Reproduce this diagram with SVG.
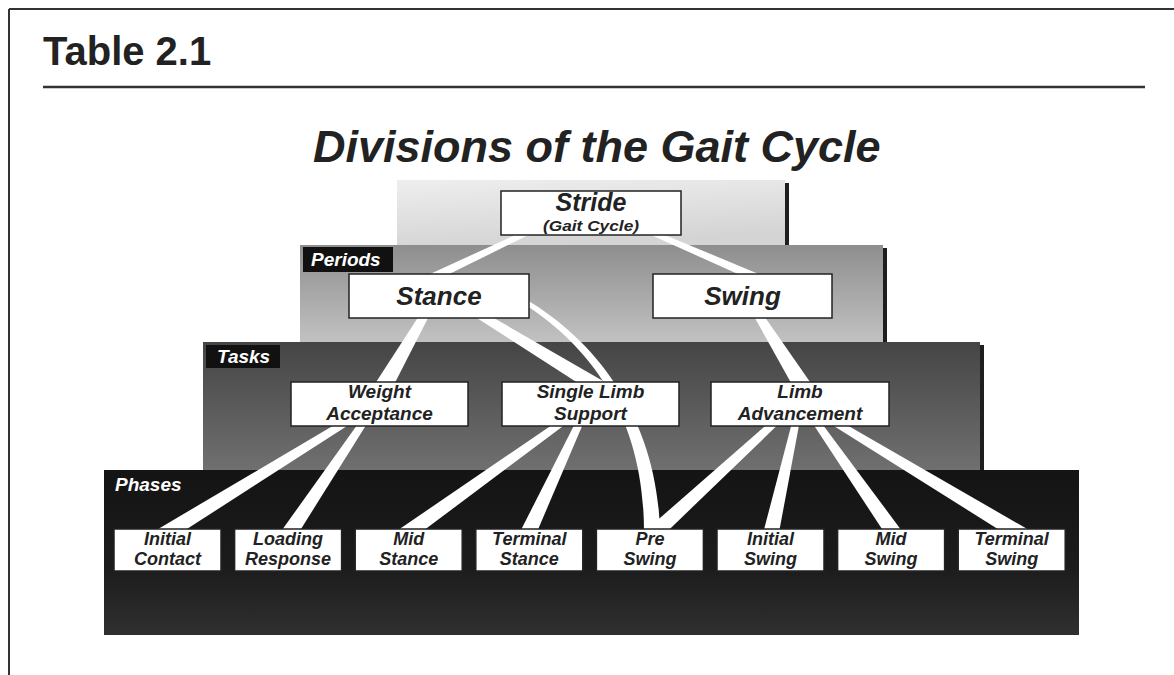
<svg xmlns="http://www.w3.org/2000/svg" width="1174" height="675" viewBox="0 0 1174 675">
  <defs>
    <linearGradient id="gStride" x1="0" y1="0" x2="0.3" y2="1">
      <stop offset="0" stop-color="#eeeeee"/>
      <stop offset="1" stop-color="#d4d4d4"/>
    </linearGradient>
    <linearGradient id="gPeriods" x1="0" y1="0" x2="0" y2="1">
      <stop offset="0" stop-color="#8e8e8e"/>
      <stop offset="1" stop-color="#c2c2c2"/>
    </linearGradient>
    <linearGradient id="gTasks" x1="0" y1="0" x2="0" y2="1">
      <stop offset="0" stop-color="#454545"/>
      <stop offset="1" stop-color="#707070"/>
    </linearGradient>
    <linearGradient id="gPhases" x1="0" y1="0" x2="0" y2="1">
      <stop offset="0" stop-color="#141414"/>
      <stop offset="0.6" stop-color="#1c1c1c"/>
      <stop offset="1" stop-color="#303030"/>
    </linearGradient>
  </defs>
  <style>
    .t { font-family: "Liberation Sans", Arial, Helvetica, sans-serif; font-weight: bold; font-style: italic; fill: #222; }
    .head { font-family: "Liberation Sans", Arial, Helvetica, sans-serif; font-weight: bold; fill: #222; }
    .tab { fill: #111; }
    .tabtext { font-family: "Liberation Sans", Arial, Helvetica, sans-serif; font-weight: bold; font-style: italic; fill: #fff; font-size: 19px; }
    .box { fill: #fff; stroke: #222; stroke-width: 1.5; }
    .bar { fill: #1e1e1e; }
    .conn { fill: #fff; }
    .p { font-size: 26px; text-anchor: middle; }
    .k { font-size: 19px; text-anchor: middle; }
    .ph { font-size: 18px; text-anchor: middle; }
  </style>

  <rect x="0" y="0" width="1174" height="675" fill="#fff"/>

  <!-- frame -->
  <g id="frame" stroke="#333" fill="none">
    <line x1="9" y1="9" x2="1174" y2="9" stroke-width="2"/>
    <line x1="9" y1="9" x2="9" y2="675" stroke-width="2"/>
    <line x1="43" y1="87" x2="1145" y2="87" stroke-width="2.5"/>
  </g>
  <text class="head" x="43" y="65" font-size="40">Table 2.1</text>
  <text class="t" x="313" y="162" font-size="45">Divisions of the Gait Cycle</text>

  <!-- layers -->
  <g id="layers">
    <rect x="397" y="180" width="388" height="66" fill="url(#gStride)"/>
    <rect class="bar" x="785" y="183" width="4" height="63"/>
    <rect x="300" y="245" width="583" height="98" fill="url(#gPeriods)"/>
    <rect class="bar" x="883" y="248" width="4" height="95"/>
    <rect x="203" y="342" width="777" height="129" fill="url(#gTasks)"/>
    <rect class="bar" x="980" y="345" width="4" height="126"/>
    <rect x="104" y="470" width="975" height="165" fill="url(#gPhases)"/>
    <rect class="tab" x="303" y="247" width="90" height="25"/>
    <text class="tabtext" x="311" y="266">Periods</text>
    <rect class="tab" x="206" y="345" width="74" height="23"/>
    <text class="tabtext" x="217" y="363">Tasks</text>
    <text class="tabtext" x="115" y="491">Phases</text>
  </g>

  <!-- connectors -->
  <g id="connectors" class="conn">
    <polygon points="537.9,230.3 420.8,288.1 417.0,279.9 535.7,225.7"/>
    <polygon points="642.5,225.7 773.0,279.9 769.4,288.1 640.5,230.3"/>
    <polygon points="431.1,312.0 386.9,398.5 371.3,389.5 424.1,308.0"/>
    <polygon points="474.0,306.6 613.9,387.2 605.5,400.8 469.8,313.4"/>
    <polygon points="758.4,307.9 815.1,389.2 799.9,398.8 751.6,312.1"/>
    <path d="M 522.7,303.1 C 596.9,350.4 645,425 644,535 L 660,535 C 659,425 601.1,343.6 525.3,298.9 Z"/>
    <polygon points="354.8,421.0 157.7,547.8 149.3,534.2 351.2,415.0"/>
    <polygon points="369.3,419.95 290.65,545.45 277.35,536.55 363.5,416.05"/>
    <polygon points="570.2,420.85 400.85,547.5 391.55,534.5 566.2,415.15"/>
    <polygon points="584.9,419.5 531.65,544.4 517.15,537.6 578.5,416.5"/>
    <polygon points="782.2,420.6 651.2,546.9 640.4,535.1 777.4,415.4"/>
    <polygon points="800.2,418.8 777.1,542.75 761.5,539.25 793.4,417.2"/>
    <polygon points="816.3,416.0 905.95,536.4 892.85,545.6 810.5,420.0"/>
    <polygon points="829.5,415.0 1036.0,534.05 1027.8,547.85 825.9,421.0"/>
  </g>

  <!-- stride -->
  <g id="stride">
    <rect class="box" x="501" y="191" width="180" height="44"/>
    <text class="t" x="591" y="211" font-size="25" text-anchor="middle">Stride</text>
    <text class="t" x="591" y="231" font-size="15" text-anchor="middle" textLength="96" lengthAdjust="spacingAndGlyphs">(Gait Cycle)</text>
  </g>

  <!-- periods -->
  <g id="stance">
    <rect class="box" x="349" y="274" width="180" height="44"/>
    <text class="t p" x="439" y="305">Stance</text>
  </g>
  <g id="swing">
    <rect class="box" x="653" y="274" width="179" height="44"/>
    <text class="t p" x="742.5" y="305">Swing</text>
  </g>

  <!-- tasks -->
  <g id="weight-acceptance">
    <rect class="box" x="291" y="382" width="177" height="44"/>
    <text class="t k" x="379.5" y="398">Weight</text>
    <text class="t k" x="379.5" y="419.5">Acceptance</text>
  </g>
  <g id="single-limb-support">
    <rect class="box" x="502" y="382" width="177" height="44"/>
    <text class="t k" x="590.5" y="398">Single Limb</text>
    <text class="t k" x="590.5" y="419.5">Support</text>
  </g>
  <g id="limb-advancement">
    <rect class="box" x="711" y="382" width="178" height="44"/>
    <text class="t k" x="800" y="398">Limb</text>
    <text class="t k" x="800" y="419.5">Advancement</text>
  </g>

  <!-- phases -->
  <g id="initial-contact">
    <rect class="box" x="114" y="529" width="107" height="42"/>
    <text class="t ph" x="167.5" y="545">Initial</text>
    <text class="t ph" x="167.5" y="565.2">Contact</text>
  </g>
  <g id="loading-response">
    <rect class="box" x="234.6" y="529" width="107" height="42"/>
    <text class="t ph" x="288.1" y="545">Loading</text>
    <text class="t ph" x="288.1" y="565.2">Response</text>
  </g>
  <g id="mid-stance">
    <rect class="box" x="355.2" y="529" width="107" height="42"/>
    <text class="t ph" x="408.7" y="545">Mid</text>
    <text class="t ph" x="408.7" y="565.2">Stance</text>
  </g>
  <g id="terminal-stance">
    <rect class="box" x="475.8" y="529" width="107" height="42"/>
    <text class="t ph" x="529.3" y="545">Terminal</text>
    <text class="t ph" x="529.3" y="565.2">Stance</text>
  </g>
  <g id="pre-swing">
    <rect class="box" x="596.4" y="529" width="107" height="42"/>
    <text class="t ph" x="649.9" y="545">Pre</text>
    <text class="t ph" x="649.9" y="565.2">Swing</text>
  </g>
  <g id="initial-swing">
    <rect class="box" x="717" y="529" width="107" height="42"/>
    <text class="t ph" x="770.5" y="545">Initial</text>
    <text class="t ph" x="770.5" y="565.2">Swing</text>
  </g>
  <g id="mid-swing">
    <rect class="box" x="837.6" y="529" width="107" height="42"/>
    <text class="t ph" x="891.1" y="545">Mid</text>
    <text class="t ph" x="891.1" y="565.2">Swing</text>
  </g>
  <g id="terminal-swing">
    <rect class="box" x="958.2" y="529" width="107" height="42"/>
    <text class="t ph" x="1011.7" y="545">Terminal</text>
    <text class="t ph" x="1011.7" y="565.2">Swing</text>
  </g>
</svg>
